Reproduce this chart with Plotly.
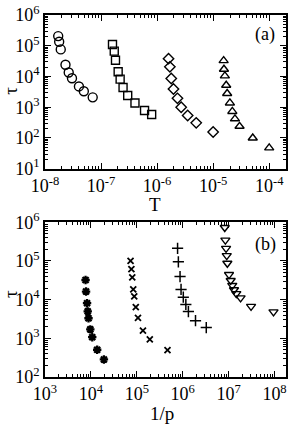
import plotly.graph_objects as go

# ---------------- data (panel a) ----------------
T_circ = [1.72e-8, 1.79e-8, 1.91e-8, 2.32e-8, 2.65e-8, 3.03e-8, 4.03e-8, 4.93e-8, 7.1e-8]
tau_circ = [2.06e5, 1.35e5, 7.6e4, 2.4e4, 1.35e4, 8.8e3, 4.75e3, 3.3e3, 2.1e3]

T_sq = [1.60e-7, 1.72e-7, 1.81e-7, 2.02e-7, 2.19e-7, 2.47e-7, 2.99e-7, 4.03e-7, 5.97e-7, 8.0e-7]
tau_sq = [1.1e5, 6.7e4, 3.36e4, 1.42e4, 8.2e3, 4.4e3, 2.4e3, 1.38e3, 7.8e2, 5.8e2]

T_dia = [1.60e-6, 1.69e-6, 1.79e-6, 1.96e-6, 2.31e-6, 2.69e-6, 3.51e-6, 4.99e-6, 1.0e-5]
tau_dia = [3.8e4, 2.06e4, 8.6e3, 3.9e3, 1.95e3, 1.0e3, 5.4e2, 3.1e2, 1.56e2]

T_tri = [1.54e-5, 1.56e-5, 1.62e-5, 1.71e-5, 1.78e-5, 1.99e-5, 2.20e-5, 2.45e-5, 2.96e-5, 5.09e-5, 1.0e-4]
tau_tri = [3.28e4, 1.72e4, 1.05e4, 5.2e3, 2.8e3, 1.38e3, 7.3e2, 4.2e2, 2.4e2, 1.0e2, 4.75e1]

# ---------------- data (panel b) ----------------
p_star = [7.65e3, 7.84e3, 8.24e3, 8.53e3, 8.87e3, 9.7e3, 1.07e4, 1.37e4, 1.92e4]
tau_star = [3.22e4, 1.62e4, 8.1e3, 4.98e3, 3.3e3, 1.7e3, 1.07e3, 5.07e2, 2.84e2]

p_x = [7.31e4, 7.62e4, 7.96e4, 8.36e4, 8.79e4, 9.5e4, 1.06e5, 1.36e5, 1.92e5, 4.66e5]
tau_x = [1.01e5, 6.17e4, 3.78e4, 1.84e4, 1.21e4, 6.43e3, 3.36e3, 1.58e3, 9.4e2, 4.98e2]

p_plus = [7.73e5, 8.04e5, 8.75e5, 9.2e5, 1.03e6, 1.17e6, 1.33e6, 1.9e6, 3.26e6]
tau_plus = [2.12e5, 9.5e4, 3.95e4, 1.84e4, 1.16e4, 7.5e3, 4.92e3, 2.86e3, 1.89e3]

p_tdn = [8.24e6, 8.49e6, 8.79e6, 9.1e6, 9.38e6, 1.02e7, 1.11e7, 1.2e7, 1.31e7, 1.47e7, 1.82e7, 3.08e7, 9.5e7]
tau_tdn = [7.31e5, 3.45e5, 2.12e5, 1.37e5, 8.73e4, 4.45e4, 3.13e4, 2.33e4, 1.8e4, 1.43e4, 1.11e4, 6.7e3, 4.84e3]

# tick labels
xa_exp = [-8, -7, -6, -5, -4]
ya_exp = [1, 2, 3, 4, 5, 6]
xb_exp = [3, 4, 5, 6, 7, 8]
yb_exp = [2, 3, 4, 5, 6]

FONT = "Liberation Serif"
fig = go.Figure()

def mk(sym, size, lw=1.4):
    return dict(symbol=sym, size=size, color="black",
                line=dict(color="black", width=lw))

fig.add_trace(go.Scatter(x=T_circ, y=tau_circ, mode="markers", marker=mk("circle-open", 9), xaxis="x", yaxis="y"))
fig.add_trace(go.Scatter(x=T_sq, y=tau_sq, mode="markers", marker=mk("square-open", 8), xaxis="x", yaxis="y"))
fig.add_trace(go.Scatter(x=T_dia, y=tau_dia, mode="markers", marker=mk("diamond-open", 8), xaxis="x", yaxis="y"))
fig.add_trace(go.Scatter(x=T_tri, y=tau_tri, mode="markers", marker=mk("triangle-up-open", 8), xaxis="x", yaxis="y"))

fig.add_trace(go.Scatter(x=p_star, y=tau_star, mode="markers", marker=mk("asterisk-open", 7, 2.3), xaxis="x2", yaxis="y2"))
fig.add_trace(go.Scatter(x=p_x, y=tau_x, mode="markers", marker=mk("x-thin-open", 6, 1.8), xaxis="x2", yaxis="y2"))
fig.add_trace(go.Scatter(x=p_plus, y=tau_plus, mode="markers", marker=mk("cross-thin-open", 8, 1.5), xaxis="x2", yaxis="y2"))
fig.add_trace(go.Scatter(x=p_tdn, y=tau_tdn, mode="markers", marker=mk("triangle-down-open", 8), xaxis="x2", yaxis="y2"))


def minor_vals(lo, hi):
    vals = []
    for k in range(lo - 1, hi + 1):
        for m in range(2, 10):
            vals.append(m * 10.0 ** k)
    return vals


def axis(exps, rng, domain, anchor):
    return dict(
        type="log", range=rng, domain=domain, anchor=anchor,
        tickmode="array",
        tickvals=[10.0 ** e for e in exps],
        ticktext=["10<sup>%d</sup>" % e for e in exps],
        ticks="inside", ticklen=6, tickwidth=1, tickcolor="black",
        minor=dict(tickmode="array", tickvals=minor_vals(int(rng[0]), int(rng[1]) + 1),
                   ticks="inside", ticklen=3, tickwidth=1, tickcolor="black"),
        showline=True, linecolor="black", linewidth=1.5, mirror="allticks",
        showgrid=False, zeroline=False,
        tickfont=dict(family=FONT, size=18, color="black"),
    )

top_dom = [210 / 365, 1.0]
bot_dom = [0.0, 156 / 365]

fig.update_layout(
    width=291, height=426,
    margin=dict(l=45, r=3, t=12, b=49),
    paper_bgcolor="white", plot_bgcolor="white",
    showlegend=False,
    xaxis=axis(xa_exp, [-8, -3.7], [0, 1], "y"),
    yaxis=axis(ya_exp, [1, 6], top_dom, "x"),
    xaxis2=axis(xb_exp, [3, 8.25], [0, 1], "y2"),
    yaxis2=axis(yb_exp, [2, 6], bot_dom, "x2"),
)


def px(xp):
    return (xp - 45) / 243


def py(yp):
    return (377 - yp) / 365

ann = [
    dict(text="τ", x=px(10), y=py(88), textangle=-90, size=19),
    dict(text="T", x=px(156), y=py(203), textangle=0, size=19),
    dict(text="(a)", x=px(267), y=py(32), textangle=0, size=18),
    dict(text="τ", x=px(10), y=py(293), textangle=-90, size=19),
    dict(text="1/p", x=px(163), y=py(414), textangle=0, size=19),
    dict(text="(b)", x=px(267), y=py(243), textangle=0, size=18),
]
for a in ann:
    fig.add_annotation(text=a["text"], x=a["x"], y=a["y"], xref="paper", yref="paper",
                       xanchor="center", yanchor="middle", showarrow=False,
                       textangle=a["textangle"],
                       font=dict(family=FONT, size=a["size"], color="black"))

fig.write_html("out.html", config={"displayModeBar": False},
               post_script="document.body.style.margin='0';document.body.style.overflow='hidden';")
